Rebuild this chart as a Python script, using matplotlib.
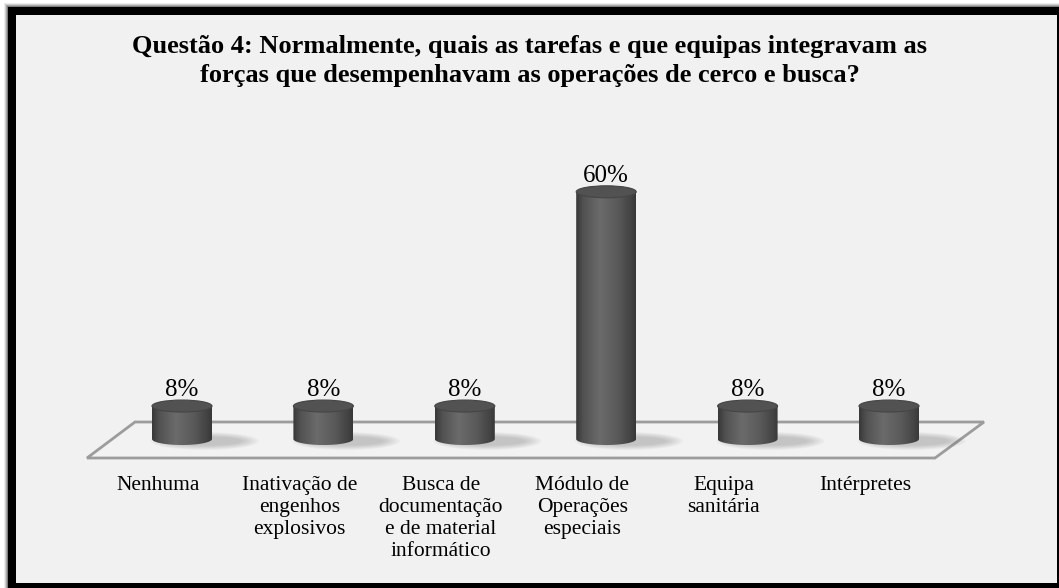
import numpy as np
import matplotlib.pyplot as plt
from matplotlib.patches import Rectangle, Polygon, Ellipse, PathPatch
from matplotlib.path import Path

plt.rcParams['font.family'] = ['Liberation Serif', 'DejaVu Serif']

categorias = [
    "Nenhuma",
    "Inativação de\nengenhos\nexplosivos",
    "Busca de\ndocumentação\ne de material\ninformático",
    "Módulo de\nOperações\nespeciais",
    "Equipa\nsanitária",
    "Intérpretes",
]
valores = [8, 8, 8, 60, 8, 8]
rotulos = ["8%", "8%", "8%", "60%", "8%", "8%"]
titulo = ("Questão 4: Normalmente, quais as tarefas e que equipas integravam as\n"
          "forças que desempenhavam as operações de cerco e busca?")

W, H = 1059, 588
fig = plt.figure(figsize=(W / 100, H / 100), dpi=100)
fig.patch.set_facecolor('white')

# moldura com sombra
for k, a in enumerate([0.08, 0.12, 0.18, 0.25]):
    fig.add_artist(Rectangle(((4 + k) / W, 0), 1, (H - 3 - k) / H, transform=fig.transFigure,
                             facecolor='black', alpha=a, edgecolor='none', zorder=0))
fig.add_artist(Rectangle((8 / W, 0), 1, (H - 7) / H, transform=fig.transFigure,
                         facecolor='black', edgecolor='none', zorder=0))
fig.add_artist(Rectangle((16 / W, 5 / H), (1057 - 16) / W, (583 - 15) / H, transform=fig.transFigure,
                         facecolor='#f1f1f1', edgecolor='none', zorder=0))

# eixo: centro das categorias e escala em %
cx0, dxp = 182, 141.4      # px
y0p, pxpct = 439, 4.12     # px
L, R, T, B = 87, 987, 170, 470
ax = fig.add_axes([L / W, (H - B) / H, (R - L) / W, (B - T) / H])
ax.axis('off')
xlim = ((L - cx0) / dxp, (R - cx0) / dxp)
ylim = ((y0p - B) / pxpct, (y0p - T) / pxpct)

meia = 30 / dxp   # meia largura do cilindro
e = 6 / pxpct     # semi-eixo da elipse

# piso
ax.add_patch(Polygon([((87 - cx0) / dxp, (y0p - 458) / pxpct), ((935 - cx0) / dxp, (y0p - 458) / pxpct),
                      ((984 - cx0) / dxp, (y0p - 422) / pxpct), ((135 - cx0) / dxp, (y0p - 422) / pxpct)],
                     closed=True, facecolor='#f2f2f2', edgecolor='#9c9c9c', lw=2, zorder=1, clip_on=False))

t = np.linspace(0, 1, 200)
perfil = np.interp(t, [0, 0.12, 0.4, 0.7, 0.9, 1], [0.22, 0.32, 0.42, 0.35, 0.27, 0.22])

for i, v in enumerate(valores):
    # sombra
    for k in range(8):
        ax.add_patch(Ellipse((i + 0.16, -0.5), 2 * meia * (1.8 - 0.08 * k), e * (3.0 - 0.22 * k),
                             facecolor='#555555', alpha=0.04, edgecolor='none', zorder=2))
    # corpo
    ang = np.linspace(0, np.pi, 40)
    arco = [(i + meia * np.cos(a), -e * np.sin(a)) for a in ang]
    verts = [(i - meia, v), (i + meia, v)] + arco + [(i - meia, v)]
    codes = [Path.MOVETO] + [Path.LINETO] * (len(verts) - 2) + [Path.CLOSEPOLY]
    corpo = PathPatch(Path(verts, codes), facecolor='none', edgecolor='none', zorder=3)
    ax.add_patch(corpo)
    img = ax.imshow(perfil[None, :], cmap='gray', vmin=0, vmax=1, aspect='auto',
                    extent=(i - meia, i + meia, -e, v), zorder=3, interpolation='bilinear')
    img.set_clip_path(corpo)
    # topo
    ax.add_patch(Ellipse((i, v), 2 * meia, 2 * e, facecolor='#525252', edgecolor='#454545',
                         lw=0.8, zorder=4))
    ax.text(i, v + e + 0.9, rotulos[i], ha='center', va='baseline', fontsize=18, zorder=5)
    ax.text(i - 24 / dxp, (y0p - 476) / pxpct, categorias[i], ha='center', va='top',
            fontsize=15.5, linespacing=1.22, clip_on=False)

ax.set_xlim(*xlim)
ax.set_ylim(*ylim)

fig.text(530 / W, 1 - 61 / H, titulo, ha='center', va='center', fontsize=19,
         fontweight='bold', linespacing=1.3)

fig.savefig('out.png', dpi=100)
